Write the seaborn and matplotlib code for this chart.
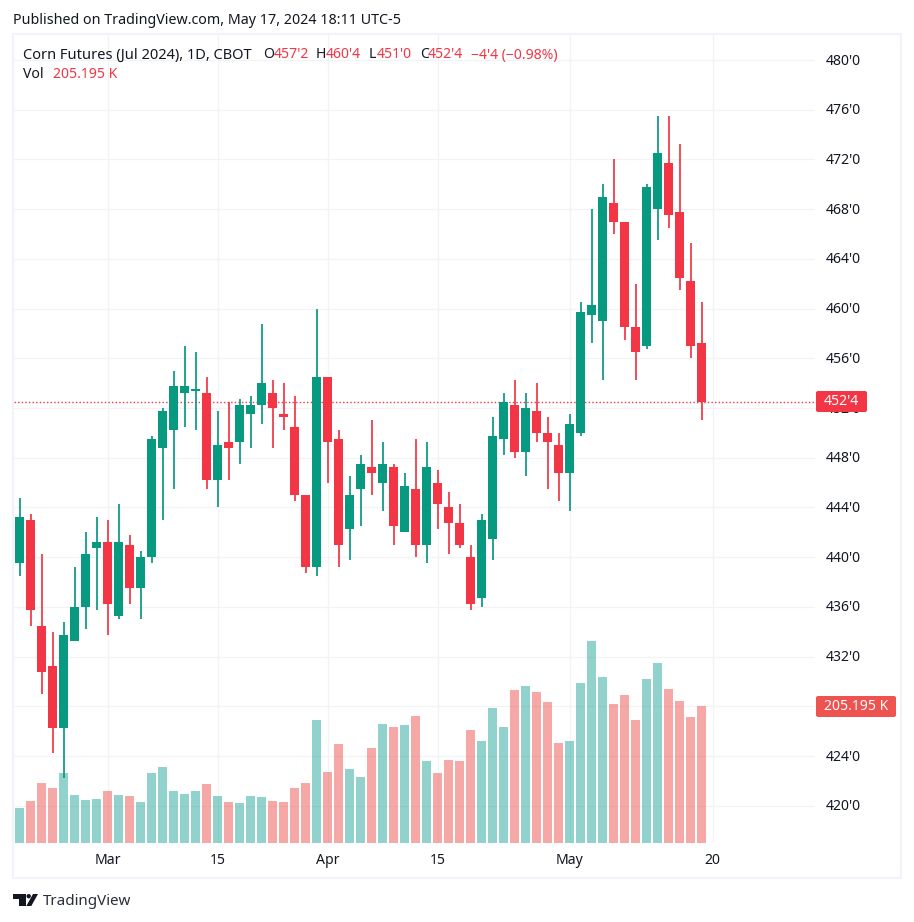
import matplotlib
matplotlib.use("Agg")
import matplotlib.pyplot as plt
from matplotlib.patches import Rectangle, FancyBboxPatch, Polygon, Circle
from matplotlib.transforms import IdentityTransform, ScaledTranslation
import numpy as np
import pandas as pd
import seaborn as sns

opens = [439.5,443,434.5,431.25,426.25,433.25,436,440.75,441.25,435.25,441,437.5,440,448.75,450.25,453.25,453.4,453.25,446.25,449.25,449.25,451.5,452.25,453.25,451.5,450.5,445,439.25,454.5,449.5,442.25,445.5,447.25,446,447.25,442,445.5,441,446,444,442.75,440,436.75,441.5,449.5,452.25,448.5,451.75,450,449,446.75,450,459.5,459,468.5,467,458.5,457,468,471.75,467.75,462.25,457.25]
highs = [444.75,443.5,440.25,434,434.75,439.25,442,443.25,443,444.25,441.75,440.5,449.75,452,455,457,456.5,454.5,451.75,452.5,452.75,453,458.75,454.25,454,453,445,460,454.5,450.25,446.5,448.25,451,449.25,447.5,446.75,449.5,449.25,447,445.25,444.25,441,443.5,451.25,453.25,454.25,453.25,454,451.25,450,451.5,460.5,468,470,472,467,462,470,475.5,475.5,473.25,465.25,460.5]
lows = [438.5,434.5,429,424.25,422.25,433.25,434.25,435.75,433.75,435,436.25,435,439.5,443,445.5,450.5,450.25,445.5,444,446.25,447.5,448.75,450.75,448.75,450.25,444.5,438.75,438.5,446,439.25,439.75,442.5,445,443.75,441,442,440,439.5,442.25,440.25,440.75,435.75,436,439.75,448.25,448,446.5,449.25,445.5,444.5,443.75,449.75,457.25,454.25,466,457.5,454.25,456.75,465.5,466.5,461.5,456,451]
closes = [443.25,435.75,430.75,426.25,433.75,436,440.25,441.25,436.25,441.25,437.5,440,449.5,451.75,453.75,453.75,453.5,446.25,449,448.75,452.25,452.25,454,452,451.25,445,439.25,454.5,449.25,441,445,447.5,446.75,447.5,442.5,445.75,441,447.25,444.25,442.75,441,436.25,443,449.75,452.5,448.5,452,450,449.25,446.75,450.75,459.75,460.25,469,467,458.5,456.5,469.75,472.5,467.5,462.5,457,452.5]
volumes_k = [52.6,63.1,90.1,82.6,105.1,72.1,64.6,66.1,78.1,72.1,70.6,61.6,105.1,114.1,78.1,73.6,78.1,88.6,70.6,61.6,60.1,70.6,69.1,63.1,61.6,82.6,90.1,184.7,106.6,148.6,111.1,99.1,142.1,178.2,173.7,176.7,190.2,122.6,104.6,124.1,122.6,169.2,152.7,202.2,173.7,229.2,235.2,226.2,211.2,149.6,152.7,239.7,302.8,248.7,208.2,221.7,184.2,245.7,269.8,230.7,212.7,188.7,205.195]
time_tick_bars = [8,18,28,38,50,63]
time_tick_labels = ["Mar","15","Apr","15","May","20"]
time_tick_bold = [True,False,True,False,True,False]
grid_prices = list(range(420,481,4))
price_ticks_labelled = [p for p in grid_prices if p != 428]
last_close = 452.5

W, H = 914, 922
GREEN, RED = "#089981", "#F23645"
VG, VR = "#26A69A", "#EF5350"
TXT = "#131722"
GRID = "#F2F3F5"
BORDER = "#F0F3FA"
FONT = "Noto Sans"

sns.set_theme(style="white")
plt.rcParams["font.family"] = [FONT, "DejaVu Sans"]
fig = plt.figure(figsize=(W/100, H/100), dpi=100, facecolor="white")

L, R, T, B = 14, 815, 35, 843
rect = [L/W, 1-B/H, (R-L)/W, (B-T)/H]
ax_grid = fig.add_axes(rect, zorder=0)
ax_vol = fig.add_axes(rect, zorder=1)
ax = fig.add_axes(rect, zorder=2)

def p2price(y):
    return 484.827 - 0.08045*y
ymin, ymax = p2price(B), p2price(T)
xlim = ((L-19.5)/11, (R-19.5)/11)

df = pd.DataFrame({"bar": np.arange(len(opens)), "open": opens, "high": highs,
                   "low": lows, "close": closes, "vol": volumes_k})
df["up"] = df["close"] >= df["open"]

for a in (ax_grid, ax_vol, ax):
    a.set_xlim(*xlim)
    a.patch.set_alpha(0)
    for s in a.spines.values():
        s.set_visible(False)
ax_grid.set_ylim(ymin, ymax)
ax_grid.yaxis.tick_right()
ax_grid.set_yticks(price_ticks_labelled)
ax_grid.set_yticklabels([f"{p}'0" for p in price_ticks_labelled], fontsize=10.1, color=TXT)
ax_grid.tick_params(axis="y", length=0, pad=7.5)
for lab in ax_grid.get_yticklabels():
    lab.set_transform(lab.get_transform() + ScaledTranslation(0, 1/100, fig.dpi_scale_trans))
ax_grid.set_xticks(time_tick_bars)
ax_grid.set_xticklabels(time_tick_labels, fontsize=10.1, color=TXT)
for lab, b in zip(ax_grid.get_xticklabels(), time_tick_bold):
    lab.set_fontweight("bold" if b else "normal")
ax_grid.tick_params(axis="x", length=0, pad=7)
ax_grid.grid(True, color=GRID, lw=0.9)
ax_grid.hlines([428], *xlim, color=GRID, lw=0.9, zorder=0.5)
ax_grid.set_axisbelow(True)

sns.barplot(data=df, x="bar", y="vol", hue="up", palette={True: VG, False: VR},
            dodge=False, native_scale=True, width=0.9, gap=0, errorbar=None,
            saturation=1, alpha=0.5, linewidth=0, legend=False, ax=ax_vol)
ax_vol.set_xlim(*xlim)
ax_vol.set_ylim(0, (B-T)*205.195/136.67)
ax_vol.axis("off")

ax.set_ylim(ymin, ymax)
colors = [GREEN if u else RED for u in df["up"]]
ax.vlines(df["bar"], df["low"], df["high"], colors=colors, lw=1.25, zorder=2)
ax.bar(df["bar"], (df["close"]-df["open"]).abs(), bottom=df[["open","close"]].min(axis=1),
       width=0.82, color=colors, linewidth=0, zorder=3)
ax.axhline(last_close, color=RED, lw=1.0, ls=(0,(1,1.6)), zorder=1)
ax.axis("off")

fig.add_artist(Rectangle((13, H-878), 888, 844, transform=IdentityTransform(),
                         fill=False, ec=BORDER, lw=1.5, zorder=5))

def label_box(x0, y0, x1, y1, fc):
    fig.add_artist(FancyBboxPatch((x0, H-y1), x1-x0, y1-y0, transform=IdentityTransform(),
                                  boxstyle="round,pad=0,rounding_size=2", fc=fc, ec="none", zorder=6))
label_box(816, 391, 867, 412, RED)
label_box(816, 696, 896, 717, "#EF5350")

def t(x, y, s, color=TXT, size=10.1, weight="normal", ha="left"):
    fig.text(x/W, 1-y/H, s, color=color, fontsize=size, fontweight=weight, ha=ha, va="center", zorder=7)

t(841.5, 401.5, "452'4", "white", 10.1, "bold", "center")
t(856, 706.5, "205.195 K", "white", 10.1, "bold", "center")
t(13, 20.5, "Published on TradingView.com, May 17, 2024 18:11 UTC-5", size=10.28)
t(23, 55, "Corn Futures (Jul 2024), 1D, CBOT", size=10.55)
for x, s in [(263,"O"),(316,"H"),(369,"L"),(420,"C")]:
    t(x, 55, s)
for x, s in [(274,"457'2"),(326,"460'4"),(377,"451'0"),(428,"452'4"),(471,"\u22124'4 (\u22120.98%)")]:
    t(x, 55, s, RED)
t(23, 75, "Vol")
t(53, 75, "205.195 K", RED)

LOGO = "#131722"
fig.add_artist(Polygon([(13,H-894),(25.5,H-894),(25.5,H-906),(19,H-906),(19,H-898.5),(13,H-898.5)],
                       transform=IdentityTransform(), fc=LOGO, ec="none"))
fig.add_artist(Polygon([(31.3,H-906),(38,H-894),(33,H-894),(26.3,H-906)],
                       transform=IdentityTransform(), fc=LOGO, ec="none"))
fig.add_artist(Circle((28.7,H-896.2), 2.2, transform=IdentityTransform(), fc=LOGO, ec="none"))
t(43, 901.5, "TradingView", "#2A2E39", 10.9)

fig.savefig("out.png", dpi=100, facecolor="white")
